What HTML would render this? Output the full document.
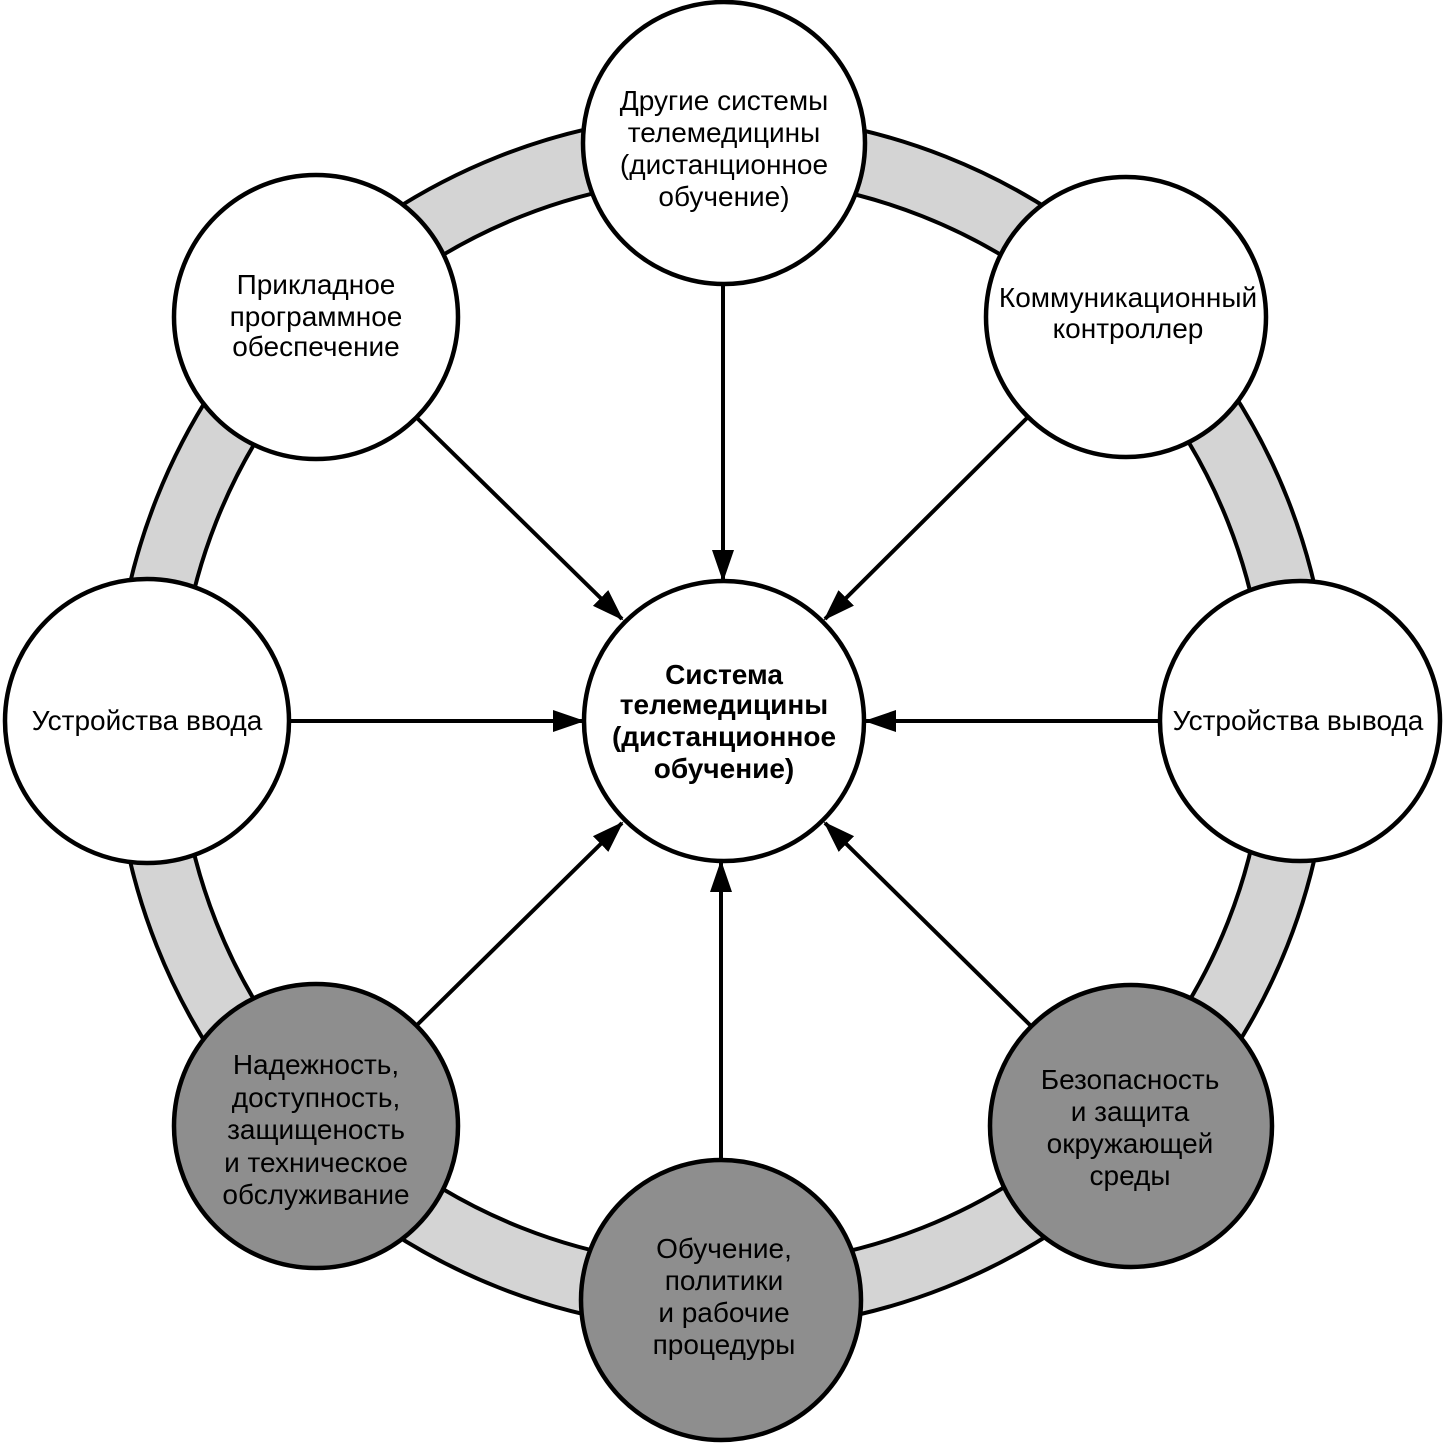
<!DOCTYPE html>
<html><head><meta charset="utf-8"><style>
html,body{margin:0;padding:0;background:#fff}
svg{display:block}
text{font-family:"Liberation Sans",Arial,sans-serif;font-size:28px;fill:#000;text-anchor:middle}
</style></head><body>
<svg width="1445" height="1443" viewBox="0 0 1445 1443" xmlns="http://www.w3.org/2000/svg">
<defs>
<marker id="ah" markerWidth="32" markerHeight="22" refX="30" refY="11" orient="auto" markerUnits="userSpaceOnUse">
<path d="M0,0 L32,11 L0,22 Z" fill="#000"/>
</marker>
</defs>
<circle cx="722" cy="722" r="576" fill="none" stroke="#000" stroke-width="68"/>
<circle cx="722" cy="722" r="576" fill="none" stroke="#d4d4d4" stroke-width="60"/>
<g stroke="#000" stroke-width="4" marker-end="url(#ah)">
<line x1="723" y1="284" x2="723" y2="580"/>
<line x1="417" y1="418" x2="622" y2="619"/>
<line x1="1027" y1="418" x2="825" y2="619"/>
<line x1="290" y1="721" x2="583" y2="721"/>
<line x1="1159" y1="721" x2="866" y2="721"/>
<line x1="417" y1="1025" x2="622" y2="823"/>
<line x1="721" y1="1159" x2="721" y2="862"/>
<line x1="1030" y1="1025" x2="825" y2="823"/>
</g>
<g stroke="#000" stroke-width="4.5">
<circle cx="724" cy="143" r="141" fill="#fff"/>
<circle cx="316" cy="317" r="142" fill="#fff"/>
<circle cx="1126" cy="317" r="140" fill="#fff"/>
<circle cx="147" cy="721" r="142" fill="#fff"/>
<circle cx="1300" cy="721" r="140" fill="#fff"/>
<circle cx="724" cy="721" r="140" fill="#fff"/>
<circle cx="316" cy="1126" r="142" fill="#8e8e8e"/>
<circle cx="721" cy="1300" r="140" fill="#8e8e8e"/>
<circle cx="1131" cy="1126" r="141" fill="#8e8e8e"/>
</g>
<text x="724" y="110">Другие системы</text>
<text x="724" y="142">телемедицины</text>
<text x="724" y="174">(дистанционное</text>
<text x="724" y="206">обучение)</text>
<text x="316" y="294">Прикладное</text>
<text x="316" y="326">программное</text>
<text x="316" y="356">обеспечение</text>
<text x="1128" y="307">Коммуникационный</text>
<text x="1128" y="338">контроллер</text>
<text x="147" y="730">Устройства ввода</text>
<text x="1298" y="730">Устройства вывода</text>
<g style="font-weight:bold;font-size:25px">
<text x="724" y="684">Система</text>
<text x="724" y="714">телемедицины</text>
<text x="724" y="746">(дистанционное</text>
<text x="724" y="778">обучение)</text>
</g>
<text x="316" y="1074">Надежность,</text>
<text x="316" y="1107">доступность,</text>
<text x="316" y="1139">защищеность</text>
<text x="316" y="1172">и техническое</text>
<text x="316" y="1204">обслуживание</text>
<text x="724" y="1258">Обучение,</text>
<text x="724" y="1290">политики</text>
<text x="724" y="1322">и рабочие</text>
<text x="724" y="1354">процедуры</text>
<text x="1130" y="1089">Безопасность</text>
<text x="1130" y="1121">и защита</text>
<text x="1130" y="1153">окружающей</text>
<text x="1130" y="1185">среды</text>
</svg>
</body></html>
